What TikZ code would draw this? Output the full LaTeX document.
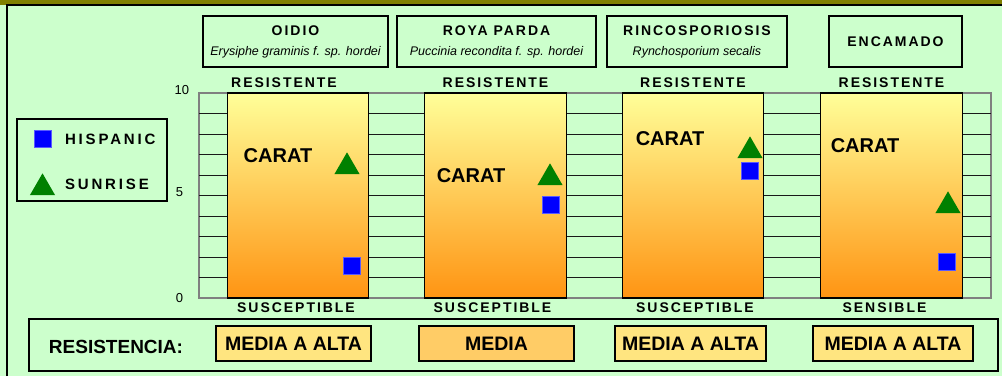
\documentclass[tikz,border=0pt]{standalone}
\usepackage{fontspec}
\setmainfont{Liberation Sans}
\newfontfamily\spaced[LetterSpace=14]{Liberation Sans}
\newfontfamily\legendfont[LetterSpace=19]{Liberation Sans}
\usetikzlibrary{positioning,shapes.geometric}
\definecolor{paper}{RGB}{204,255,204}
\definecolor{topbar}{RGB}{128,128,0}
\definecolor{barTop}{RGB}{255,255,153}
\definecolor{barBot}{RGB}{255,148,18}
\definecolor{hispanic}{RGB}{0,0,255}
\definecolor{sunrise}{RGB}{0,128,0}
\definecolor{mediaalta}{RGB}{255,229,128}
\definecolor{media}{RGB}{255,204,102}

\begin{document}
\begin{tikzpicture}[x=1pt,y=-1pt]
\tikzstyle{every node}=[inner sep=0pt,outer sep=0pt]
\tikzstyle{diseasebox}=[draw,line width=1.2pt,minimum height=51pt,align=center,font=\fontsize{14}{20}\selectfont]
\tikzstyle{resbar}=[draw,line width=1.3pt,minimum width=141.5pt,minimum height=205pt,top color=barTop,bottom color=barBot]
\tikzstyle{scaletext}=[font=\fontsize{14}{16}\selectfont\spaced\bfseries]
\tikzstyle{carat}=[font=\fontsize{20}{22}\selectfont\bfseries]
\tikzstyle{gridline}=[line width=0.8pt,black!90]
\tikzstyle{hispanicmark}=[rectangle,fill=hispanic,draw=hispanic!65!white,line width=0.5pt,minimum size=17pt]
\tikzstyle{sunrisemark}=[regular polygon,regular polygon sides=3,fill=sunrise,minimum size=28.9pt,anchor=south]
\tikzstyle{legendtext}=[anchor=west,font=\fontsize{15}{18}\selectfont\legendfont\bfseries]
\tikzstyle{levelbox}=[draw,line width=1.3pt,minimum height=35pt,font=\fontsize{19.5}{21}\selectfont\bfseries]
\tikzstyle{axisnum}=[anchor=east,font=\fontsize{13}{15}\selectfont]

\useasboundingbox (0,0) rectangle (1002,376);
\fill[paper] (0,0) rectangle (1002,376);
\fill[topbar] (0,0) rectangle (1002,4.5);
\draw[line width=2pt] (7,376) -- (7,5) -- (1002,5);

% titles
\node[diseasebox,minimum width=185pt] (oidio) at (295.5,41.5) {{\spaced\bfseries OIDIO}\\{\itshape\fontsize{12.5}{20}\selectfont Erysiphe graminis f. sp. hordei}};
\node[diseasebox,minimum width=199pt] (roya) at (496.5,41.5) {{\spaced\bfseries ROYA PARDA}\\{\itshape\fontsize{12.5}{20}\selectfont Puccinia recondita f. sp. hordei}};
\node[diseasebox,minimum width=180pt] (rinco) at (697,41.5) {{\spaced\bfseries RINCOSPORIOSIS}\\{\itshape\fontsize{12.5}{20}\selectfont Rynchosporium secalis}};
\node[diseasebox,minimum width=133pt] (encamado) at (895.5,41.5) {{\spaced\bfseries ENCAMADO}};

% chart
\draw[gray,line width=1.3pt] (199,93) rectangle (991,298);
\foreach \v in {1,...,9}
  \draw[gridline] (199,{298-20.5*\v}) -- (991,{298-20.5*\v});
\node[axisnum] (ten) at (189,90) {10};
\node[axisnum] (five) at (183,192) {5};
\node[axisnum] (zero) at (183,298) {0};

\node[resbar] (bar1) at (298,195.5) {};
\node[resbar] (bar2) at (495.5,195.5) {};
\node[resbar] (bar3) at (693,195.5) {};
\node[resbar] (bar4) at (891.5,195.5) {};

\node[scaletext,above=5pt of bar1.north,xshift=-14pt] (top1) {RESISTENTE};
\node[scaletext,above=5pt of bar2.north] (top2) {RESISTENTE};
\node[scaletext,above=5pt of bar3.north] (top3) {RESISTENTE};
\node[scaletext,above=5pt of bar4.north] (top4) {RESISTENTE};
\node[scaletext,below=5pt of bar1.south,xshift=-2pt] (bot1) {SUSCEPTIBLE};
\node[scaletext,below=5pt of bar2.south,xshift=-3pt] (bot2) {SUSCEPTIBLE};
\node[scaletext,below=5pt of bar3.south,xshift=2pt] (bot3) {SUSCEPTIBLE};
\node[scaletext,below=5pt of bar4.south,xshift=-7pt] (bot4) {SENSIBLE};

\node[carat] (carat1) at (278,156) {CARAT};
\node[carat] (carat2) at (471,176) {CARAT};
\node[carat] (carat3) at (670,139) {CARAT};
\node[carat] (carat4) at (865,146) {CARAT};

\node[sunrisemark] (sun1) at (347,174) {};
\node[sunrisemark] (sun2) at (550,185) {};
\node[sunrisemark] (sun3) at (750,158) {};
\node[sunrisemark] (sun4) at (948,213) {};
\node[hispanicmark] (his1) at (352,266) {};
\node[hispanicmark] (his2) at (551,205) {};
\node[hispanicmark] (his3) at (750,171) {};
\node[hispanicmark] (his4) at (947,262) {};

% legend
\node[draw,line width=1.5pt,minimum width=150pt,minimum height=82pt] (legend) at (92,160) {};
\node[hispanicmark] (keyhis) at (43,139) {};
\node[sunrisemark] (keysun) at (42.5,195) {};
\node[legendtext] (hislabel) at (65,139) {HISPANIC};
\node[legendtext] (sunlabel) at (65,184) {SUNRISE};

% resistencia
\node[draw,line width=1.5pt,minimum width=969pt,minimum height=52pt] (resrow) at (513.5,345) {};
\node[font=\fontsize{19}{21}\selectfont\bfseries] (reslabel) at (116,347) {RESISTENCIA:};
\node[levelbox,fill=mediaalta,minimum width=155pt] (lev1) at (293.5,343.5) {MEDIA A ALTA};
\node[levelbox,fill=media,minimum width=155pt] (lev2) at (496.5,343.5) {MEDIA};
\node[levelbox,fill=mediaalta,minimum width=151pt] (lev3) at (690.5,343.5) {MEDIA A ALTA};
\node[levelbox,fill=mediaalta,minimum width=160pt] (lev4) at (893,343.5) {MEDIA A ALTA};
\end{tikzpicture}
\end{document}
